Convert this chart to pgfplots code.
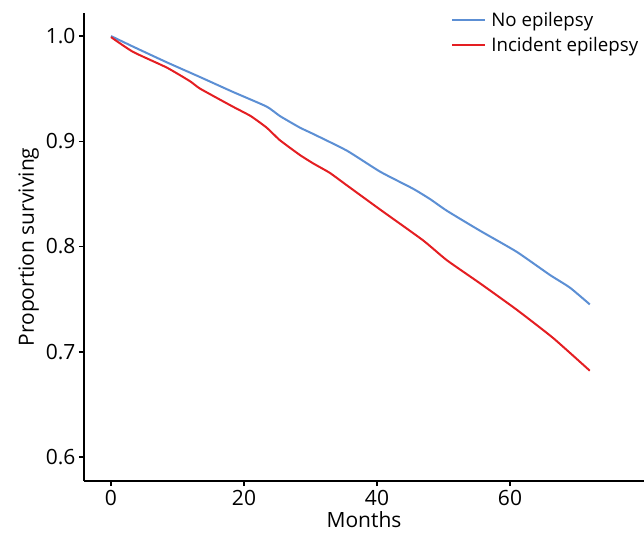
\documentclass[border=0pt]{standalone}
\usepackage{fontspec}
\setmainfont{Open Sans}
\usepackage{pgfplots}
\pgfplotsset{compat=1.18}
\definecolor{cblue}{RGB}{92,143,212}
\definecolor{cred}{RGB}{228,30,34}
\begin{document}
\begin{tikzpicture}
\begin{axis}[
  name=ax,
  scale only axis,
  width=560bp, height=468bp,
  xmin=-4.06, xmax=80.15,
  ymin=0.5772, ymax=1.0219,
  axis x line=bottom, axis y line=left,
  axis line style={-, line width=2bp, black},
  xtick={0,20,40,60},
  ytick={0.6,0.7,0.8,0.9,1.0},
  yticklabel style={/pgf/number format/.cd, fixed, fixed zerofill, precision=1},
  xticklabel style={yshift=-1bp},
  tick style={black, line width=1.5bp},
  tick align=outside,
  major tick length=5bp,
  /pgf/number format/assume math mode=true,
  ticklabel style={font=\fontsize{21bp}{24bp}\selectfont},
  label style={font=\fontsize{21bp}{24bp}\selectfont},
  xlabel={Months},
  xlabel style={inner sep=0pt, yshift=-2bp},
  ylabel={Proportion surviving},
  legend style={draw=none, fill=none, at={(rel axis cs:0.999,1.007)}, anchor=north east,
    font=\fontsize{18.7bp}{22bp}\selectfont, row sep=6bp, inner sep=0pt,
    nodes={inner xsep=5bp}},
  legend cell align=left,
  legend image code/.code={\draw[#1] (0bp,0bp) -- (33bp,0bp);},
]
\addplot[cblue, line width=2bp, smooth, tension=0.3] coordinates {
(0,1.000) (3.3,0.990) (8.4,0.975) (13.4,0.961) (18.3,0.947) (23.4,0.933)
(25.4,0.924) (28.4,0.913) (30.4,0.907) (35.5,0.891) (40.5,0.871) (45.4,0.855)
(48,0.845) (50.5,0.834) (55.5,0.815) (61,0.795) (66,0.773) (69,0.761) (72,0.745)
};
\addlegendentry{No epilepsy}
\addplot[cred, line width=2bp, smooth, tension=0.3] coordinates {
(0,0.999) (3.3,0.985) (8.4,0.970) (11.9,0.957) (13.4,0.950) (18.3,0.933)
(21,0.924) (23.4,0.913) (25.4,0.901) (28.4,0.887) (30.4,0.879) (32.9,0.870)
(35.5,0.858) (40.5,0.835) (46.9,0.806) (50.5,0.787) (55.5,0.765) (61,0.740)
(66.5,0.713) (72,0.682)
};
\addlegendentry{Incident epilepsy}
\end{axis}
\pgfresetboundingbox
\path[use as bounding box] ([xshift=-84bp,yshift=-52bp]ax.south west) rectangle ([yshift=13bp]ax.north east);
\end{tikzpicture}
\end{document}
